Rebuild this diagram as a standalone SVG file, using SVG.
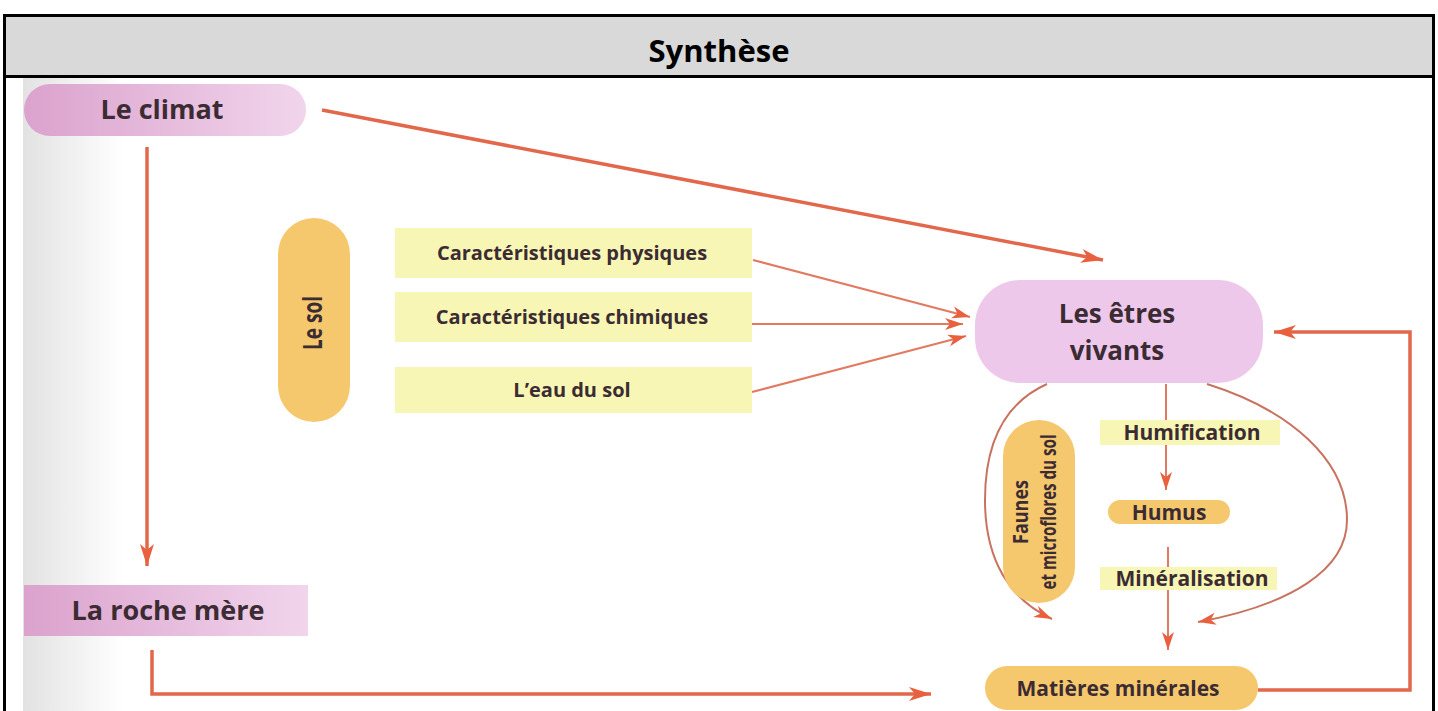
<svg xmlns="http://www.w3.org/2000/svg" width="1438" height="711" viewBox="0 0 1438 711">
<style>
.lbl{font-family:"Open Sans","Liberation Sans",sans-serif;font-weight:700;fill:#3b2b33;text-anchor:middle}
.big{font-size:27px}
.mid{font-size:20px}
.sm{font-size:21px}
.conn{fill:none;stroke:#e2674b;stroke-width:3.5}
.thin{fill:none;stroke:#e27a62;stroke-width:2}
.arc{fill:none;stroke:#c8735f;stroke-width:2}
.yel{fill:#f8f6b4}
.org{fill:#f6c86e}
</style>
<defs>
<linearGradient id="pinkG" x1="0" y1="0" x2="1" y2="0">
<stop offset="0" stop-color="#dba2cd"/><stop offset="1" stop-color="#f1d5ec"/>
</linearGradient>
<linearGradient id="scanG" x1="0" y1="0" x2="1" y2="0">
<stop offset="0" stop-color="#e2e2e2"/><stop offset="1" stop-color="#ffffff"/>
</linearGradient>
<marker id="ah" markerUnits="userSpaceOnUse" markerWidth="24" markerHeight="16" refX="22" refY="8" orient="auto">
<path d="M0,1 L22,8 L0,15 L6,8 z" fill="#e8603e"/>
</marker>
<marker id="ahs" markerUnits="userSpaceOnUse" markerWidth="20" markerHeight="14" refX="18" refY="7" orient="auto">
<path d="M0,1 L18,7 L0,13 L5,7 z" fill="#e8603e"/>
</marker>
</defs>
<rect x="0" y="0" width="1438" height="711" fill="#ffffff"/>
<rect x="23" y="78" width="100" height="633" fill="url(#scanG)"/>
<g id="frame">
<rect x="4.5" y="15.5" width="1429" height="61" fill="#d9d9d9" stroke="#000" stroke-width="3"/>
<line x1="4.5" y1="77" x2="4.5" y2="711" stroke="#000" stroke-width="3"/>
<line x1="1433.5" y1="77" x2="1433.5" y2="711" stroke="#000" stroke-width="3"/>
<text x="719" y="62" font-family="'Open Sans','Liberation Sans',sans-serif" font-weight="700" font-size="31" fill="#000" text-anchor="middle">Synthèse</text>
</g>
<g id="connectors">
<line class="conn" x1="147" y1="147" x2="147" y2="566" marker-end="url(#ah)"/>
<line class="conn" x1="322" y1="110" x2="1103" y2="260" marker-end="url(#ah)"/>
<line class="thin" x1="753" y1="260" x2="970" y2="317" marker-end="url(#ahs)"/>
<line class="thin" x1="752" y1="324" x2="963" y2="324" marker-end="url(#ahs)"/>
<line class="thin" x1="752" y1="392" x2="966" y2="336" marker-end="url(#ahs)"/>
<polyline class="conn" points="152,650 152,694 931,694" marker-end="url(#ah)"/>
<polyline class="conn" points="1258,690 1410,690 1410,332 1274,332" marker-end="url(#ah)"/>
<line class="thin" x1="1166" y1="384" x2="1166" y2="490" marker-end="url(#ahs)"/>
<line class="thin" x1="1168" y1="547" x2="1168" y2="650" marker-end="url(#ahs)"/>
<path class="arc" d="M1047,384 C1000,405 985,450 985,500 C985,560 1010,600 1052,619" marker-end="url(#ahs)"/>
<path class="arc" d="M1207,384 C1290,410 1347,460 1347,520 C1347,570 1290,605 1198,622" marker-end="url(#ahs)"/>
</g>
<g id="climat">
<rect x="24" y="84" width="282" height="52" rx="26" fill="url(#pinkG)"/>
<text class="lbl big" x="162" y="119">Le climat</text>
</g>
<g id="roche">
<rect x="24" y="585" width="284" height="51" fill="url(#pinkG)"/>
<text class="lbl big" x="168" y="620">La roche mère</text>
</g>
<g id="sol">
<rect class="org" x="278" y="218" width="72" height="204" rx="36"/>
<text class="lbl" font-size="27" transform="translate(322,323) rotate(-90)" textLength="54" lengthAdjust="spacingAndGlyphs">Le sol</text>
</g>
<g id="physiques">
<rect class="yel" x="395" y="228" width="357" height="50"/>
<text class="lbl mid" x="572" y="260">Caractéristiques physiques</text>
</g>
<g id="chimiques">
<rect class="yel" x="395" y="292" width="357" height="50"/>
<text class="lbl mid" x="572" y="324">Caractéristiques chimiques</text>
</g>
<g id="eau">
<rect class="yel" x="395" y="367" width="357" height="46"/>
<text class="lbl mid" x="572" y="397">L’eau du sol</text>
</g>
<g id="vivants">
<rect x="975" y="280" width="288" height="103" rx="45" fill="#edc8ea"/>
<text class="lbl" font-size="26" x="1117" y="323">Les êtres</text>
<text class="lbl" font-size="26" x="1117" y="360">vivants</text>
</g>
<g id="faunes">
<rect class="org" x="1003" y="420" width="72" height="183" rx="36"/>
<text class="lbl" font-size="22" transform="translate(1028,512) rotate(-90)" textLength="64" lengthAdjust="spacingAndGlyphs">Faunes</text>
<text class="lbl" font-size="22" transform="translate(1056,512) rotate(-90)" textLength="155" lengthAdjust="spacingAndGlyphs">et microflores du sol</text>
</g>
<g id="humification">
<rect class="yel" x="1100" y="420" width="180" height="25"/>
<text class="lbl sm" x="1192" y="440">Humification</text>
</g>
<g id="humus">
<rect class="org" x="1108" y="500" width="122" height="24" rx="12"/>
<text class="lbl sm" x="1169" y="520">Humus</text>
</g>
<g id="mineralisation">
<rect class="yel" x="1100" y="567" width="177" height="23"/>
<text class="lbl sm" x="1192" y="586">Minéralisation</text>
</g>
<g id="matieres">
<rect class="org" x="985" y="666" width="273" height="44" rx="22"/>
<text class="lbl sm" x="1118" y="696">Matières minérales</text>
</g>
</svg>
